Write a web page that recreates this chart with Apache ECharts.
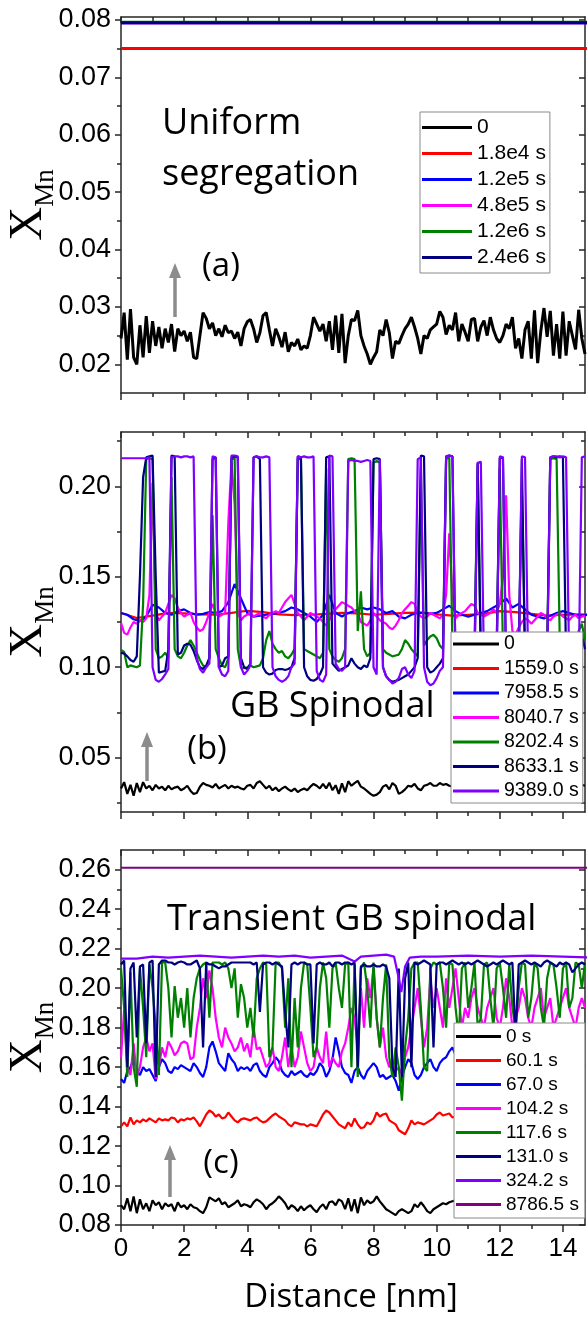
<!doctype html>
<html>
<head>
<meta charset="utf-8">
<script src="https://cdn.jsdelivr.net/npm/echarts@6/dist/echarts.min.js"></script>
<style>
  html, body { margin: 0; padding: 0; background: #fff; }
  #chart { width: 587px; height: 1317px; }
</style>
</head>
<body>
<div id="chart"></div>
<script>
// X_Mn profiles along the boundary, values stored as X_Mn * 1e4
// profiles sampled every 0.1 nm unless noted
var xMax = 14.7;
var xMajor = [0, 2, 4, 6, 8, 10, 12, 14];
var xMinor = [1, 3, 5, 7, 9, 11, 13];

// ---- panel (a) uniform segregation ----
var aNames = ['0', '1.8e4 s', '1.2e5 s', '4.8e5 s', '1.2e6 s', '2.4e6 s'];
var aColors = ['#000000', '#ff0000', '#0000ff', '#ff00ff', '#008000', '#000080'];
var aMajor = [0.02, 0.03, 0.04, 0.05, 0.06, 0.07, 0.08];
var aMinor = [0.025, 0.035, 0.045, 0.055, 0.065, 0.075];
var a0 = [
  245,290,208,296,212,200,268,212,284,220,
  275,232,265,228,262,238,270,222,262,250,
  258,240,256,212,210,250,290,280,262,272,
  250,262,248,268,255,258,245,256,232,262,
  274,278,262,238,255,285,290,260,232,262,
  248,230,256,222,238,232,244,225,232,228,
  250,282,270,258,270,240,275,225,285,220,
  288,202,250,278,276,294,250,232,218,200,
  212,222,260,250,278,255,210,240,236,250,
  262,270,282,265,245,218,250,245,260,265,
  270,292,282,252,268,260,290,240,270,256,
  240,278,280,240,265,276,250,282,260,245,
  238,250,270,262,282,228,245,210,260,275,
  210,294,202,258,298,248,293,215,270,210,
  292,215,275,250,226,295,245,218];
// flat profiles: value at x = 0 and x = 15
var a1 = [750, 750];
var a2 = [795, 795];
var a3 = [795, 795];
var a4 = [796, 796];
var a5 = [795, 795];

// ---- panel (b) GB spinodal ----
var bNames = ['0', '1559.0 s', '7958.5 s', '8040.7 s', '8202.4 s', '8633.1 s', '9389.0 s'];
var bColors = ['#000000', '#ff0000', '#0000ff', '#ff00ff', '#008000', '#000080', '#8000ff'];
var bMajor = [0.05, 0.10, 0.15, 0.20];
var bMinor = [0.025, 0.075, 0.125, 0.175, 0.225];
var b0 = [
  330,365,300,350,290,360,310,365,330,345,
  320,350,330,340,320,345,325,335,340,320,
  330,345,318,300,305,340,360,350,345,335,
  355,330,340,350,330,345,335,340,330,325,
  345,350,330,360,370,350,330,345,320,335,
  315,330,340,325,315,330,310,322,330,320,
  340,355,345,330,355,330,362,320,348,300,
  358,310,370,345,360,372,340,330,315,300,
  290,296,310,340,350,325,360,345,300,310,
  325,345,340,355,330,320,345,350,360,345,
  345,360,350,355,345,340,355,360,350,345,
  350,345,355,340,350,345,360,340,350,345,
  355,340,350,345,360,350,340,355,345,350,
  340,355,345,350,360,345,355,340,350,355,
  345,350,360,345,340,355,350,345];
// every 0.5 nm
var b1 = [1300,1272,1285,1300,1298,1292,1290,1300,1312,1305,1292,1288,1290,1295,1300,1298,
  1290,1295,1300,1302,1292,1285,1290,1295,1310,1305,1295,1285,1290,1292,1290];
// every 0.2 nm
var b2 = [
  1300,1290,1265,1255,1280,1345,1330,1300,1290,1310,
  1320,1300,1290,1295,1305,1300,1310,1360,1460,1380,
  1300,1280,1285,1290,1295,1300,1310,1330,1320,1300,
  1280,1250,1290,1400,1300,1280,1300,1310,1330,1320,
  1330,1320,1300,1310,1280,1270,1290,1300,1300,1295,
  1300,1320,1340,1310,1290,1280,1290,1300,1310,1330,
  1350,1380,1330,1350,1320,1290,1280,1270,1285,1300,
  1310,1300,1290,1285,1290];
var b3 = [
  1245,1190,1180,1220,1250,1240,1260,1250,1270,1400,
  2020,1300,1260,1280,1300,1350,1400,1380,1330,1300,
  1280,1290,1300,1250,1220,1200,1210,1250,1300,1350,
  1300,1280,1290,1300,1800,2130,1900,1300,1260,1280,
  1290,1300,1280,1290,1300,1280,1270,1290,1300,1310,
  1300,1330,1360,1380,1400,1350,1300,1280,1260,1280,
  1300,1290,1280,1270,1250,1230,1260,1300,1320,1340,
  1360,1350,1340,1330,1310,1300,1250,1240,1230,1260,
  1300,1280,1260,1250,1240,1220,1210,1230,1260,1300,
  1320,1340,1360,1350,1300,1280,1270,1280,1300,1290,
  1280,1270,1290,1400,1740,1400,1270,1290,1300,1310,
  1330,1350,1340,1300,1290,1280,1290,1300,1320,1300,
  1350,1500,1950,1400,1200,1180,1220,1250,1270,1260,
  1240,1260,1280,1300,1290,1270,1260,1280,1290,1300,
  1280,1270,1260,1280,1290,1270,1280,1285];
var b4 = [
  1095,1085,1000,1010,1005,1000,1010,1350,
  2150,2155,2150,
  1100,1050,1060,1080,1050,
  2050,
  1100,1060,1050,1080,1120,1150,1120,1080,1040,1010,1000,1050,
  1840,
  1100,1050,1010,1000,1050,
  2150,2155,
  1100,1000,995,1000,1010,1000,1005,1010,1050,
  1150,1200,
  1130,1100,1080,1090,1060,1050,1070,1100,
  2150,2155,
  1100,1090,1080,1070,1060,1050,1080,
  2100,
  1100,1060,1040,1030,1050,1100,
  2150,2155,2150,
  1200,1420,
  1100,1060,1080,
  2130,2140,2130,
  1100,1080,1070,1060,1065,1070,1100,1150,1130,1100,1080,1060,
  2100,
  1120,1150,1170,1180,1160,1120,1100,
  2150,2160,
  1100,1080,1070,1060,1050,1080,1100,1120,
  2120,
  1100,1080,1060,1050,1070,1100,
  2100,
  1100,1080,1050,1040,1060,1100,
  2000,
  1100,1080,1060,1050,1040,1060,1080,1100,
  2150,2155,2150,
  1150,1100,1080,1060,1050,1100,1200,1240,1150];
var b5 = [
  1080,1075,1060,1040,1030,1060,1500,
  2050,2160,2165,2170,
  1500,970,975,980,1100,
  2170,2165,
  1070,1080,1120,1130,1125,1090,1040,1000,990,1010,1050,
  2150,2160,
  1000,1010,1050,1060,
  2160,2165,2160,
  1050,1000,990,1020,
  2160,2165,2150,
  1000,970,960,965,985,990,990,985,990,1000,1050,
  2165,2160,
  1000,950,930,925,935,960,1000,
  2160,2165,
  1020,1000,980,990,1000,1010,1050,1020,1000,990,1010,1000,1050,
  2150,2155,2150,
  1000,950,930,920,925,930,940,950,960,980,1000,1050,
  2170,2165,
  1000,970,980,1000,1020,1050,
  2165,2170,2165,
  1000,980,990,1000,1040,1060,1050,
  2130,
  1030,1010,1000,1020,1050,1080,
  2155,2160,
  1000,980,990,1000,1050,
  2150,
  1000,980,960,950,980,1000,1030,1050,
  2160,2165,2160,2165,2160,
  1050,1020,1000,1010,1060,1180,1100];
var b6 = [
  2155,2155,2155,2155,2155,2155,2155,2155,2155,2160,
  1000,930,920,935,960,990,
  2160,2165,2165,2160,2165,2165,2160,2165,
  1050,990,970,1000,1020,
  2165,2160,
  1000,960,950,980,
  2170,2170,2165,
  1000,960,980,1010,
  2160,2165,2160,2160,2165,2160,
  1000,950,930,920,930,950,1000,1020,
  2165,2160,2165,2160,2160,2165,
  980,930,920,960,
  2170,2165,
  1020,990,980,1000,
  2140,2145,2140,2140,2135,2140,2145,2140,
  1000,960,
  2150,
  1000,950,930,910,920,940,990,1000,960,940,980,
  2150,2160,
  1000,920,900,910,940,980,1000,
  2165,2170,2165,
  1000,960,940,950,980,1010,1000,
  2130,2135,
  1000,950,940,960,1000,
  2165,2160,
  1000,960,930,950,990,
  2165,2160,
  1000,970,950,940,960,990,1010,
  2160,2165,2165,2160,2165,2160,
  1000,960,950,990,
  2160,2165];

// ---- panel (c) transient GB spinodal ----
var cNames = ['0 s', '60.1 s', '67.0 s', '104.2 s', '117.6 s', '131.0 s', '324.2 s', '8786.5 s'];
var cColors = ['#000000', '#ff0000', '#0000ff', '#ff00ff', '#008000', '#000080', '#8000ff', '#800080'];
var cMajor = [0.08, 0.10, 0.12, 0.14, 0.16, 0.18, 0.20, 0.22, 0.24, 0.26];
var cMinor = [0.09, 0.11, 0.13, 0.15, 0.17, 0.19, 0.21, 0.23, 0.25];
var c0 = [
  900,880,935,870,945,860,930,880,910,870,
  925,900,915,880,910,895,905,870,915,890,
  900,880,905,890,885,870,860,890,940,930,
  920,935,905,915,890,900,910,925,895,905,
  900,890,915,930,920,905,880,900,910,925,
  945,930,910,880,900,890,870,895,875,890,
  900,880,865,890,905,880,915,920,900,930,
  920,880,935,870,930,860,940,900,925,910,
  920,945,920,900,880,870,860,850,870,880,
  870,860,870,905,890,915,895,870,860,880,
  890,900,910,905,915,920,925,910,930,920,
  915,925,920,910,930,920,905,915,925,920,
  910,930,915,925,910,905,920,930,915,925,
  910,920,930,915,905,920,925,910,920,930,
  915,925,920,910,905,920,915,925];
var c1 = [
  1300,1320,1300,1345,1310,1330,1320,1335,1325,1340,
  1330,1320,1340,1330,1335,1330,1345,1340,1320,1335,
  1330,1340,1335,1345,1325,1300,1330,1360,1380,1370,
  1350,1360,1340,1345,1370,1350,1330,1320,1335,1340,
  1335,1330,1340,1345,1330,1320,1325,1340,1355,1365,
  1350,1340,1330,1310,1300,1320,1315,1310,1310,1300,
  1310,1305,1300,1330,1360,1380,1370,1350,1330,1310,
  1300,1290,1320,1300,1340,1310,1290,1295,1320,1310,
  1330,1370,1350,1360,1365,1330,1320,1310,1280,1270,
  1260,1290,1330,1310,1320,1315,1310,1320,1330,1340,
  1360,1370,1355,1360,1365,1345,1350,1370,1360,1345,
  1350,1360,1345,1355,1350,1340,1355,1360,1345,1350,
  1340,1355,1360,1350,1345,1355,1350,1360,1345,1350,
  1340,1355,1350,1345,1360,1350,1340,1355,1345,1350,
  1360,1345,1355,1350,1340,1345,1330,1340];
var c2 = [
  1540,1520,1580,1600,1640,1580,1560,1600,1580,1590,
  1560,1530,1600,1640,1620,1580,1570,1600,1590,1610,
  1600,1590,1580,1620,1600,1570,1550,1600,1700,1730,
  1680,1620,1600,1580,1670,1640,1620,1580,1600,1590,
  1600,1580,1610,1620,1580,1560,1550,1600,1620,1650,
  1630,1580,1560,1550,1580,1560,1570,1580,1560,1550,
  1570,1560,1580,1620,1600,1550,1580,1640,1750,1680,
  1600,1570,1560,1520,1580,1600,1560,1540,1580,1600,
  1620,1600,1550,1560,1540,1550,1560,1530,1480,1550,
  1600,1640,1620,1560,1540,1560,1600,1620,1640,1600,
  1580,1620,1640,1650,1680,1700,1660,1640,1650,1620,
  1600,1620,1640,1610,1630,1600,1620,1640,1610,1600,
  1620,1630,1610,1600,1640,1620,1610,1600,1630,1620,
  1610,1600,1620,1640,1630,1610,1600,1620,1610,1600,
  1630,1620,1600,1560,1540,1560,1600,1610];
var c3 = [
  1650,1890,1600,1560,1720,1550,1600,1700,1750,1680,
  1720,1540,1600,1700,1650,1730,1700,1660,1680,1720,
  1730,1720,1640,1650,1800,1900,2050,1950,2090,2000,
  1850,1750,1700,1800,1750,1720,1680,1700,1750,1680,
  1720,1650,1800,1690,1700,1650,1600,1620,1700,1600,
  1580,1650,1750,1600,1700,1600,1650,1780,1700,1620,
  1580,1600,1700,1650,1620,1780,1600,1650,1620,1600,
  1680,1720,1800,1900,1850,1700,2000,1800,2050,1950,
  2100,1850,1700,1800,1650,1600,1620,1580,1600,1560,
  1650,1700,1800,1900,2000,1850,1700,1800,2050,1900,
  2000,1900,1800,2050,1900,2000,2100,1950,1800,1900,
  1850,1950,2000,1900,1850,1800,1900,1950,2000,1850,
  1800,1900,2050,1950,1800,1850,1900,2000,1950,1850,
  1800,1900,1950,2000,1850,1900,1950,1800,1850,1900,
  1950,2000,1900,1850,1800,1900,1950,1900];
var c4 = [
  2100,1900,1550,2080,1600,1500,2100,1900,1650,2120,
  2000,1800,1560,2130,2130,2000,1750,2010,1850,1950,
  1800,2000,1750,1950,2050,2100,2120,2130,1850,2130,
  2130,2130,2120,2130,2100,2000,2100,1850,2020,1950,
  1800,1900,1750,2050,2100,2130,2120,1650,1700,2130,
  2130,2100,1800,2050,1600,1950,1700,2000,2130,2120,
  1900,1650,1700,2000,2130,2050,1800,2100,2130,2000,
  1900,2120,2130,1600,2120,1550,2100,2130,2000,1800,
  2130,1850,1700,1950,2120,1650,1550,1700,1600,1430,
  1700,1850,2100,2130,2130,1900,1600,1580,2100,2130,
  2120,2130,2000,1800,2130,2120,1900,1750,2100,2130,
  1900,2000,2130,1800,1850,2120,2130,1950,1800,2100,
  2130,2000,1850,2120,1900,1800,2000,2130,2120,1850,
  1950,2130,2100,1900,1800,2050,2130,2120,2000,1850,
  2100,2130,1900,1950,2130,2120,2000,2130];
var c5 = [
  2120,2140,1600,2100,2130,1750,2110,2120,1720,2130,
  2140,1550,2120,2140,2140,2130,2130,2120,2130,2135,
  2130,2120,2120,2130,2140,2100,1700,2130,2120,2120,
  2110,2100,2110,2110,2120,2130,2130,2130,2130,2130,
  2130,2130,2120,2130,1880,2120,2130,2130,2120,2130,
  2120,2110,1880,1700,2120,2130,2120,2130,2130,2120,
  2120,1720,2120,2130,2120,2120,2130,2110,2130,2130,
  2120,2130,2130,2120,2130,1600,2110,2120,2110,2110,
  2120,2110,2110,2120,2110,2050,1600,1550,2100,1550,
  2050,2130,1600,2130,2120,2130,2140,2130,2120,1700,
  2120,2130,2130,2120,2130,2140,2130,2120,2130,2120,
  2130,2120,2130,2140,2130,2120,2110,2120,2130,2120,
  2130,2140,2130,2120,2130,1750,2120,2130,2140,2130,
  2120,2130,2120,2110,2130,2140,2130,2120,2110,2130,
  2120,2130,2120,2080,2100,2120,2130,2120];
// [x nm, X_Mn*1e4]
var c6 = [[0,2150],[0.5,2150],[1,2160],[1.5,2155],[2,2160],[2.5,2165],[3,2160],[3.5,2155],
  [4,2160],[4.5,2165],[5,2160],[5.5,2165],[6,2155],[6.5,2160],[7,2165],[7.4,2135],[7.6,2160],
  [8,2165],[8.4,2170],[8.65,2160],[8.8,2050],[8.88,1980],[9.0,2110],[9.15,2155],[9.5,2160],
  [10,2160],[11,2165],[12,2160],[13,2165],[14,2160],[15,2155]];
var c7 = [2610, 2610];

function prof(vals, step) {
  return vals.map(function (v, i) { return [Math.round(i * step * 100) / 100, v / 1e4]; });
}
function pairs(p) {
  return p.map(function (q) { return [q[0], q[1] / 1e4]; });
}

var axisColor = '#262626';
var tickStyle = { color: axisColor, width: 1.5 };

function xAxesFor(g, labels) {
  var base = { type: 'value', gridIndex: g, min: 0, max: xMax, splitLine: { show: false } };
  function ax(pos, showLine, vals, len, inside, lab) {
    return Object.assign({}, base, {
      position: pos,
      axisLine: { show: showLine, onZero: false, lineStyle: { color: axisColor, width: 1.5 } },
      axisTick: { show: true, inside: inside, length: len, customValues: vals, lineStyle: tickStyle },
      axisLabel: lab ? { show: true, customValues: xMajor, margin: 11, fontSize: 26,
        fontFamily: 'Liberation Sans', color: '#000' } : { show: false }
    });
  }
  return [
    ax('bottom', true, xMajor, 7, false, labels),
    ax('bottom', false, xMinor, 4, false, false),
    ax('top', true, xMajor, 6, true, false),
    ax('top', false, xMinor, 4, true, false)
  ];
}

function yAxesFor(g, min, max, major, minor) {
  var base = { type: 'value', gridIndex: g, min: min, max: max, splitLine: { show: false } };
  function ax(pos, showLine, vals, len, inside, lab) {
    var o = Object.assign({}, base, {
      position: pos,
      axisLine: { show: showLine, onZero: false, lineStyle: { color: axisColor, width: 1.5 } },
      axisTick: { show: true, inside: inside, length: len, customValues: vals, lineStyle: tickStyle },
      axisLabel: { show: false }
    });
    if (lab) {
      o.axisLabel = { show: true, customValues: major, margin: 10, fontSize: 27,
        fontFamily: 'Liberation Sans', color: '#000',
        formatter: function (v) { return v.toFixed(2); } };
      o.name = '{x|X}{s|Mn}';
      o.nameLocation = 'middle';
      o.nameRotate = 90;
      o.nameGap = 62;
      o.nameMoveOverlap = false;
      o.nameTextStyle = { rich: {
        x: { fontFamily: 'Liberation Serif', fontSize: 47, color: '#000', padding: [0, 0, 7, 0] },
        s: { fontFamily: 'Liberation Serif', fontSize: 27, color: '#000', verticalAlign: 'bottom' }
      } };
    }
    return o;
  }
  return [
    ax('left', true, major, 6, false, true),
    ax('left', false, minor, 4, false, false),
    ax('right', true, major, 6, true, false),
    ax('right', false, minor, 4, true, false)
  ];
}

var series = [];
function addLine(tag, name, data, color, g, w) {
  series.push({
    type: 'line', name: tag + '#' + name, data: data,
    xAxisIndex: 4 * g, yAxisIndex: 4 * g,
    symbol: 'none', showSymbol: false, silent: true,
    lineStyle: { color: color, width: w }, itemStyle: { color: color },
    emphasis: { disabled: true }
  });
}

var aData = [prof(a0, 0.1), prof(a1, 15), prof(a2, 15), prof(a3, 15), prof(a4, 15), prof(a5, 15)];
aData.forEach(function (d, i) { addLine('a', aNames[i], d, aColors[i], 0, 3); });
var bData = [prof(b0, 0.1), prof(b1, 0.5), prof(b2, 0.2), prof(b3, 0.1), prof(b4, 0.1), prof(b5, 0.1), prof(b6, 0.1)];
bData.forEach(function (d, i) { addLine('b', bNames[i], d, bColors[i], 1, 2.2); });
var cData = [prof(c0, 0.1), prof(c1, 0.1), prof(c2, 0.1), prof(c3, 0.1), prof(c4, 0.1), prof(c5, 0.1), pairs(c6), prof(c7, 15)];
cData.forEach(function (d, i) { addLine('c', cNames[i], d, cColors[i], 2, 2.2); });

function legendFor(tag, names, left, top, fs, lw, gap, pad) {
  return {
    orient: 'vertical', left: left, top: top, selectedMode: false,
    data: names.map(function (n) { return tag + '#' + n; }),
    formatter: function (n) { return n.split('#')[1]; },
    icon: 'rect', itemWidth: lw, itemHeight: 3, itemGap: gap,
    textStyle: { fontSize: fs, lineHeight: fs, fontFamily: 'Liberation Sans', color: '#000' },
    backgroundColor: '#fff', borderColor: '#8a8a8a', borderWidth: 1, borderRadius: 0,
    padding: pad
  };
}

function label(text, x, y, size, align) {
  return { type: 'text', x: x, y: y, silent: true, z: 100,
    style: { text: text, font: size + 'px "Open Sans"', fill: '#000', align: align || 'left', verticalAlign: 'middle' } };
}
function arrow(x, tip, base) {
  return [
    { type: 'line', silent: true, z: 100, shape: { x1: x, y1: base, x2: x, y2: tip + 13 },
      style: { stroke: '#8c8c8c', lineWidth: 3.5 } },
    { type: 'polygon', silent: true, z: 100, shape: { points: [[x - 6, tip + 15], [x + 6, tip + 15], [x, tip]] },
      style: { fill: '#8c8c8c' } }
  ];
}

var graphics = [
  label('Uniform', 162, 124, 36),
  label('segregation', 162, 175, 36),
  label('(a)', 221, 267, 33, 'center'),
  label('GB Spinodal', 230, 707, 36),
  label('(b)', 207, 750, 33, 'center'),
  label('Transient GB spinodal', 167, 920, 36),
  label('(c)', 221, 1164, 33, 'center'),
  label('Distance [nm]', 351, 1298, 33, 'center')
].concat(arrow(175, 263, 317), arrow(147, 732, 781), arrow(170, 1145, 1197));

var gridBase = { left: 121, width: 464, outerBoundsMode: 'none', containLabel: false };
var option = {
  animation: false,
  backgroundColor: '#fff',
  grid: [
    Object.assign({ top: 17, height: 376 }, gridBase),
    Object.assign({ top: 432, height: 380 }, gridBase),
    Object.assign({ top: 850, height: 375 }, gridBase)
  ],
  xAxis: xAxesFor(0, false).concat(xAxesFor(1, false), xAxesFor(2, true)),
  yAxis: yAxesFor(0, 0.015, 0.0805, aMajor, aMinor)
    .concat(yAxesFor(1, 0.02, 0.23, bMajor, bMinor), yAxesFor(2, 0.08, 0.27, cMajor, cMinor)),
  legend: [
    legendFor('a', aNames, 420, 112, 21, 50, 5, [5, 4, 5, 2]),
    legendFor('b', bNames, 451, 632, 19.5, 46, 4.5, [2, 4, 2, 2]),
    legendFor('c', cNames, 454, 1023, 19, 45, 5, [4, 6, 4, 2])
  ],
  series: series,
  graphic: { elements: graphics }
};

var myChart = echarts.init(document.getElementById('chart'), null, { renderer: 'canvas' });
myChart.setOption(option);
</script>
</body>
</html>
